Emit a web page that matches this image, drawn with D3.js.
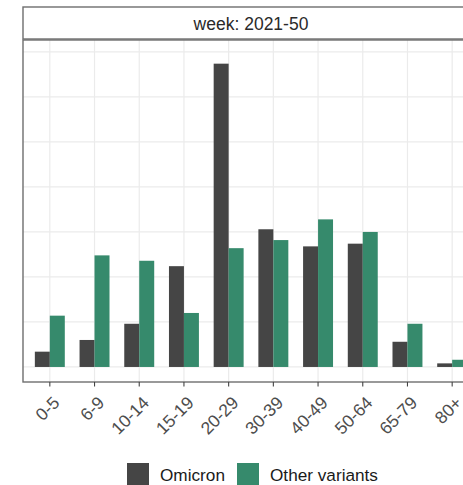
<!DOCTYPE html>
<html>
<head>
<meta charset="utf-8">
<script src="https://cdn.jsdelivr.net/npm/d3@7"></script>
<style>
  html, body { margin: 0; padding: 0; background: #fff; }
  svg { display: block; font-family: "Liberation Sans", Arial, Helvetica, sans-serif; }
</style>
</head>
<body>
<svg id="chart" width="463" height="485"></svg>
<script>
const categories = ["0-5", "6-9", "10-14", "15-19", "20-29", "30-39", "40-49", "50-64", "65-79", "80+"];
const series = ["Omicron", "Other variants"];
const omicron = [1.7, 3.0, 4.8, 11.2, 33.7, 15.3, 13.4, 13.7, 2.8, 0.4];
const otherVariants = [5.7, 12.4, 11.8, 6.0, 13.2, 14.1, 16.4, 15.0, 4.8, 0.8];
const yBreaks = [0, 5, 10, 15, 20, 25, 30, 35];
const colors = ["#454545", "#368a6c"];
const stripLabel = "week: 2021-50";

const svg = d3.select("#chart");

const panel = { left: 23, right: 479, top: 40, bottom: 382 };
const strip = { top: 7, bottom: 39 };

const x = d3.scaleBand().domain(categories)
  .range([panel.left, panel.right]).paddingInner(0).paddingOuter(0.1);
const groupW = x.bandwidth() * 0.67;
const xs = d3.scaleBand().domain(series).range([0, groupW]).padding(0);
const y = d3.scaleLinear().domain([-1.67, 36.33]).range([panel.bottom, panel.top]);

const data = categories.map((c, i) => ({ cat: c, vals: [
  { s: series[0], v: omicron[i] }, { s: series[1], v: otherVariants[i] } ] }));

// strip
svg.append("rect").attr("x", panel.left).attr("y", strip.top)
  .attr("width", panel.right - panel.left).attr("height", strip.bottom - strip.top)
  .attr("fill", "#fff").attr("stroke", "#6e6e6e").attr("stroke-width", 1.4);
svg.append("text").attr("x", (panel.left + panel.right) / 2).attr("y", 30)
  .attr("text-anchor", "middle").attr("font-size", 17.5).attr("fill", "#2a2a2a")
  .text(stripLabel);

// panel bg
const g = svg.append("g");
g.append("rect").attr("x", panel.left).attr("y", panel.top)
  .attr("width", panel.right - panel.left).attr("height", panel.bottom - panel.top)
  .attr("fill", "#fff");

// grid
g.selectAll(".hg").data(yBreaks).join("line")
  .attr("x1", panel.left).attr("x2", panel.right)
  .attr("y1", d => y(d)).attr("y2", d => y(d))
  .attr("stroke", "#ebebeb").attr("stroke-width", 1.2);
g.selectAll(".vg").data(categories).join("line")
  .attr("x1", d => x(d) + x.bandwidth() / 2).attr("x2", d => x(d) + x.bandwidth() / 2)
  .attr("y1", panel.top).attr("y2", panel.bottom)
  .attr("stroke", "#ebebeb").attr("stroke-width", 1.2);

// bars
const grp = g.selectAll(".grp").data(data).join("g")
  .attr("transform", d => `translate(${x(d.cat) + x.bandwidth() / 2 - groupW / 2},0)`);
grp.selectAll("rect").data(d => d.vals).join("rect")
  .attr("x", d => xs(d.s)).attr("width", xs.bandwidth())
  .attr("y", d => y(d.v)).attr("height", d => y(0) - y(d.v))
  .attr("fill", (d, i) => colors[i]);

// panel border
svg.append("rect").attr("x", panel.left).attr("y", panel.top)
  .attr("width", panel.right - panel.left).attr("height", panel.bottom - panel.top)
  .attr("fill", "none").attr("stroke", "#6e6e6e").attr("stroke-width", 1.4);

// x axis
const xAxis = d3.axisBottom(x).tickSize(4.5).tickPadding(2);
const ax = svg.append("g").attr("transform", `translate(0,${panel.bottom})`).call(xAxis);
ax.select(".domain").remove();
ax.selectAll(".tick line").attr("stroke", "#444").attr("stroke-width", 1.1);
ax.selectAll(".tick text")
  .attr("font-size", 17.5).attr("fill", "#4d4d4d")
  .attr("font-family", "'Liberation Sans', Arial, sans-serif")
  .attr("text-anchor", "end")
  .attr("x", 0).attr("y", 0).attr("dy", "0.72em")
  .attr("transform", "translate(2,13) rotate(-45)");

// legend
const legend = svg.append("g");
const legendItems = [
  { label: series[0], color: colors[0], kx: 127, tx: 160 },
  { label: series[1], color: colors[1], kx: 237, tx: 270 }
];
legendItems.forEach(it => {
  legend.append("rect").attr("x", it.kx).attr("y", 463).attr("width", 22).attr("height", 22)
    .attr("fill", it.color);
  legend.append("text").attr("x", it.tx).attr("y", 480.5)
    .attr("font-size", 17.2).attr("fill", "#1a1a1a").text(it.label);
});
</script>
</body>
</html>
